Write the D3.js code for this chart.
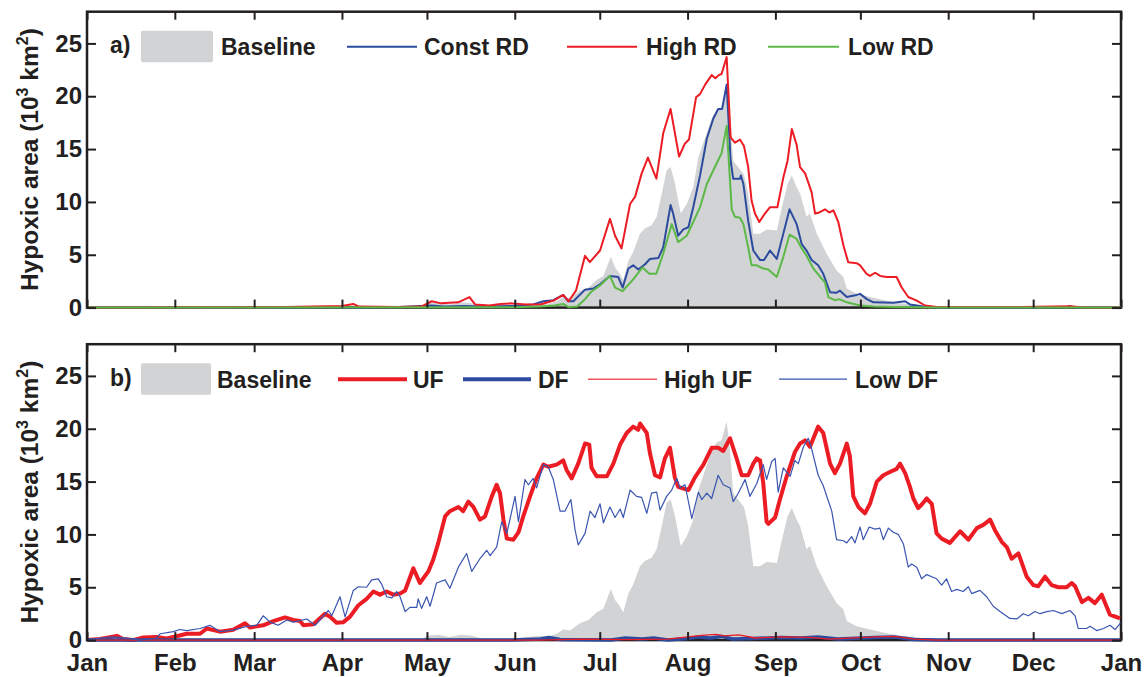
<!DOCTYPE html>
<html><head><meta charset="utf-8">
<script src="https://cdn.jsdelivr.net/npm/d3@7"></script>
<style>
body{margin:0;background:#fff;}
text{font-family:"Liberation Sans",Arial,Helvetica,sans-serif;font-weight:bold;fill:#231f20;}
</style></head>
<body><svg id="c" width="1146" height="677"></svg>
<script>
// ---- data (day of year, hypoxic area 10^3 km^2) ----
const monthStarts = [0,31,59,90,120,151,181,212,243,273,304,334,365];
const monthLabels = ["Jan","Feb","Mar","Apr","May","Jun","Jul","Aug","Sep","Oct","Nov","Dec","Jan"];
const yTicks = [0,5,10,15,20,25];

const baseline = [[0,0],[118,0],[120,0.4],[124,0.5],[128,0.3],[132,0.5],[136,0.4],[140,0.1],[150,0.1],[155,0.3],[160,0.4],[162.3,0.3],[165.8,0.6],[168.1,1.0],[170.5,0.9],[174,1.6],[177,1.9],[179.9,2.6],[182.3,3.0],[184.9,4.8],[186.4,3.8],[188.1,3.2],[189.3,2.6],[191.1,4.4],[192.7,5.2],[195.2,7.0],[197,7.5],[199.3,7.8],[201.1,8.6],[202.9,10.8],[204.6,13.0],[206,13.3],[207.5,11.8],[209.6,8.9],[211.7,9.8],[214,11.4],[215.8,14.2],[218.2,16.1],[220.5,17.9],[222.3,18.7],[224,18.9],[225.8,20.7],[227,17.9],[228.1,13.9],[230.5,13.1],[231.9,12.6],[233.4,10.8],[235.2,7.0],[237.6,7.0],[239.9,7.4],[243.5,7.3],[245.3,9.5],[247.3,11.7],[248.8,12.5],[250.5,11.4],[251.7,10.8],[254,8.6],[255.2,8.9],[257.6,7.0],[261.1,5.1],[264.6,3.5],[267,2.9],[268.2,1.8],[271.7,1.3],[276.4,1.0],[282.3,0.66],[287,0.4],[292.9,0.3],[297.6,0.05],[300,0],[365,0]];

const constRD = [[0,0],[100,0],[110,0.05],[121.7,0.2],[126,0.1],[133,0.15],[140,0.1],[150,0.15],[157.5,0.3],[161.1,0.6],[164.6,0.7],[168.1,1.2],[169.9,0.6],[171.7,0.6],[175.8,1.7],[178.7,1.8],[181.1,2.2],[184.6,3.0],[187.5,2.9],[189.1,1.9],[191.1,3.7],[192.8,4.0],[194.6,3.6],[197,4.1],[198.7,4.6],[201.7,4.7],[203.4,5.7],[206,9.7],[206.9,8.9],[208.7,6.8],[210.5,7.4],[212.3,7.6],[214,9.5],[216.4,12.5],[218.8,16.0],[221.1,17.9],[222.8,18.8],[224.2,18.8],[225.8,21.1],[227.2,13.9],[228.1,12.2],[230.5,12.2],[230.8,12.5],[231.7,11.7],[233.4,8.2],[235.2,5.4],[237.6,4.5],[239,4.5],[241.1,5.4],[243.5,4.6],[245.8,7.0],[248,9.3],[250.5,7.9],[252.3,6.0],[254,5.4],[255.8,4.5],[258.1,4.0],[259.9,3.2],[262.3,1.45],[264.5,1.4],[265.8,1.6],[268.2,1.0],[271.7,1.2],[272.9,1.3],[275.3,0.8],[277.6,0.5],[284.6,0.45],[288.8,0.6],[290.5,0.3],[295.2,0.1],[300,0],[345,0],[347,0.15],[349,0],[365,0]];

const highRD = [[0,0],[70,0.05],[90,0.15],[94,0.35],[96,0.1],[110,0.05],[118,0.1],[121.7,0.6],[125,0.4],[131,0.5],[135,1.0],[137,0.3],[142,0.2],[146,0.35],[150,0.4],[155,0.3],[160,0.3],[165,0.7],[168.1,1.2],[170,0.6],[172.6,1.6],[175.8,4.9],[177.5,4.3],[181.1,5.4],[184.6,8.4],[186.4,6.8],[188.7,5.6],[191.7,9.8],[193.5,10.5],[195.8,12.7],[198,14.2],[201,12.2],[203.4,16.5],[206,18.8],[209,14.3],[211,15.5],[212.5,15.9],[215,19.9],[216.4,20.2],[218.2,21.1],[220.5,22.0],[221.8,21.7],[223,22.0],[224,22.1],[225.8,23.7],[227.2,16.1],[228.7,15.6],[230.5,15.9],[231.9,15.3],[233.4,13.3],[234.6,10.1],[235.8,8.9],[237.3,8.1],[239.3,8.9],[241.1,9.5],[243.7,9.5],[245.8,12.3],[247.3,13.9],[248.8,16.9],[250.5,15.4],[251.7,13.3],[253.5,12.7],[255.8,10.9],[257,8.9],[258.5,9.0],[260.5,9.3],[262,9.0],[263.5,9.2],[265.2,8.1],[267,5.9],[268.7,4.3],[271.7,4.2],[272.9,4.0],[275.2,3.2],[276.4,3.0],[278.2,3.3],[280,3.0],[282.3,2.9],[285.8,2.9],[287.6,1.9],[289.9,1.0],[292.9,0.66],[295.8,0.2],[300,0.05],[330,0.05],[347,0.12],[352,0],[365,0]];

const lowRD = [[0,0],[150,0.03],[160,0.1],[165,0.2],[168.1,0.35],[170,0.05],[173,0.1],[175.8,0.8],[178,1.5],[181.1,2.1],[184.6,3.0],[186.4,1.9],[189,1.55],[192.6,2.6],[196.1,3.8],[198.5,3.2],[201,3.2],[203.4,5.1],[206.4,7.9],[208.7,6.2],[211.7,6.8],[214,8.1],[216.4,9.5],[218.8,11.7],[221.1,13.0],[224,14.6],[225.8,17.2],[227.6,9.3],[228.7,8.6],[230.5,8.5],[231.7,7.9],[233.4,5.7],[234.6,4.0],[236.4,4.0],[238.7,3.7],[240.5,3.6],[243.5,2.9],[245.8,4.8],[248,6.9],[250.5,6.5],[252.3,5.6],[254,4.9],[256.4,3.7],[258.8,2.9],[260.5,2.4],[261.7,1.0],[264,0.7],[265.5,0.8],[268.2,0.5],[272.9,0.2],[277.6,0.1],[285,0.05],[300,0],[365,0]];

const uf = [[0,0],[4.6,0.1],[10.5,0.4],[12.8,0.1],[16.2,0],[19.9,0.25],[24.6,0.3],[28.1,0.15],[30.5,0.3],[35.2,0.6],[39.9,0.6],[42.3,1.1],[46.9,0.8],[51.6,0.98],[55.8,1.6],[57.5,1.2],[62.2,1.4],[65.8,1.8],[69.9,2.15],[72.8,1.9],[75.2,1.8],[76.4,1.4],[79.9,1.5],[84,2.5],[85.8,2.2],[88.1,1.65],[90.5,1.7],[92.8,2.2],[95.8,3.3],[98.7,3.9],[101.1,4.6],[103.4,4.3],[105.8,4.6],[108.1,4.3],[110.5,4.4],[112.3,4.7],[115.2,6.8],[117.5,5.4],[120.5,6.5],[122.2,7.6],[124,9.2],[126.4,11.7],[128.1,12.2],[131.1,12.6],[132.8,12.2],[134.6,13.1],[136.4,12.6],[138.7,11.4],[140.5,11.7],[142.9,13.6],[144.6,14.7],[145.8,13.9],[147,11.4],[148.2,9.6],[150.5,9.5],[152.3,10.2],[154,11.7],[156.4,13.6],[158.7,15.3],[161.1,16.6],[162.8,16.4],[165.8,16.6],[168.1,17.0],[169.3,16.1],[171.1,15.3],[173.4,16.7],[175.8,18.6],[177.3,18.5],[178.1,16.3],[179.9,15.5],[183.5,15.5],[185.8,16.7],[188.2,18.5],[190.5,19.6],[192.8,20.2],[194.6,19.9],[195.2,20.5],[197.6,19.6],[198.7,17.7],[200.5,15.6],[202.3,15.4],[204,17.2],[205.8,18.2],[207.5,15.4],[208.7,14.5],[212.3,14.2],[214.6,15.4],[217.6,16.6],[220.5,18.2],[222.8,18.2],[224.6,17.9],[227,19.1],[229.3,17.2],[231.1,15.6],[233.4,15.6],[235.2,16.7],[236.4,17.2],[237.6,17.0],[238.7,14.9],[239.9,11.2],[240.5,11.0],[242.9,11.6],[244.6,13.3],[247,15.5],[249.9,17.8],[251.7,18.6],[253.5,18.9],[255.2,18.3],[258.1,20.2],[259.9,19.6],[262.3,16.7],[264,15.8],[265.8,16.7],[268.2,18.6],[269.3,17.4],[270.5,13.6],[272.3,12.6],[274.6,12.0],[276.4,12.9],[278.8,15.0],[281.1,15.6],[283.4,15.9],[285.8,16.2],[287,16.7],[288.8,15.8],[290.5,14.5],[291.7,13.4],[293.4,12.5],[294.6,12.8],[296.4,13.4],[298.2,12.9],[299.9,10.1],[301.7,9.6],[304.6,9.2],[308.2,10.3],[311.1,9.5],[314.1,10.6],[316.4,10.9],[318.8,11.4],[320.5,10.4],[322.9,9.3],[324.7,8.8],[326.4,7.7],[328.8,8.2],[331.7,6.0],[334.1,5.2],[335.8,5.1],[338.2,6.0],[340.5,5.2],[342.9,5.0],[345.8,5.0],[347.6,5.4],[348.8,5.1],[351.2,3.6],[353.5,4.0],[355.8,3.5],[358.2,4.3],[361.1,2.4],[364.6,2.05]];

const df = [[0,0],[150,0],[160,0.1],[163,0.25],[167,0.05],[185,0],[190,0.2],[196,0.1],[200,0.2],[205,0],[212,0.15],[216,0.3],[220,0.2],[224,0.35],[228,0.1],[235,0.15],[245,0.25],[252,0.2],[258,0.3],[265,0.1],[278,0.25],[285,0.3],[292,0.05],[300,0],[365,0]];

const highUF = [[0,0],[160,0],[175,0.1],[190,0.05],[205,0.1],[212,0.3],[217,0.45],[222,0.55],[225,0.4],[230,0.5],[236,0.2],[245,0.3],[255,0.25],[262,0.1],[278,0.3],[285,0.35],[292,0.1],[300,0],[365,0]];

const lowDF = [[0,0],[4.6,0.2],[9.3,0.3],[14,0.2],[18.7,0],[24.6,0.2],[25.8,0.6],[30.5,0.8],[32.8,1.0],[35.2,0.9],[39.9,1.1],[43.4,1.4],[46.9,0.8],[51.6,0.95],[56.4,1.3],[59.9,1.4],[62.2,2.3],[64.6,1.7],[67.5,1.4],[70.5,1.9],[72.8,1.7],[77.6,2.0],[80.5,1.4],[85.2,2.8],[86.4,2.3],[89.3,4.1],[91.1,2.2],[94,4.7],[95.8,5.05],[98.7,5.0],[100.5,5.7],[102.8,5.8],[104,5.3],[105.8,4.1],[107.6,4.0],[109.3,4.6],[110.5,4.1],[112.3,2.7],[114,3.1],[116.4,3.1],[116.9,3.9],[118.1,3.0],[119.9,4.1],[121.1,3.2],[123.4,5.4],[126.4,5.7],[128.1,4.9],[131.1,6.9],[134,8.2],[135.8,6.5],[138.7,7.7],[141.1,8.5],[142.3,8.0],[144.6,8.8],[146.4,11.2],[148.2,10.1],[151.1,13.6],[152.3,11.2],[154.6,15.2],[155.8,14.7],[157.5,15.3],[158.7,14.4],[161.1,16.6],[162.8,16.4],[164.6,15.2],[167,12.2],[168.7,12.2],[170.8,13.3],[172.3,10.4],[173.4,9.0],[175.8,10.1],[177.6,12.2],[179.3,11.6],[181.1,12.9],[182.3,11.1],[184.6,12.6],[186.4,11.6],[188.2,12.4],[189.3,11.6],[191.7,14.2],[194,13.6],[195.8,13.5],[197.6,12.0],[199.3,13.9],[201.1,14.0],[202.3,12.3],[204.6,13.6],[206.4,14.2],[208.2,15.3],[209.3,14.4],[211.1,14.7],[213.5,11.5],[215.8,14.0],[217,13.3],[218.8,13.9],[220.5,13.4],[222.8,15.6],[224.6,14.7],[227,14.4],[228.1,13.1],[229.9,13.9],[232.3,15.2],[234,13.6],[236.4,14.8],[238.7,16.6],[239.9,15.2],[241.7,16.9],[242.9,17.2],[244,14.0],[245.8,16.3],[248.2,15.5],[249.9,17.0],[251.1,16.7],[252.9,18.3],[254.6,19.1],[255.8,18.1],[258.1,15.6],[259.9,14.6],[262.9,12.2],[264.6,9.5],[267,9.4],[268.2,9.2],[269.9,9.8],[271.1,9.2],[272.9,10.7],[274,9.5],[276.1,10.7],[278.2,10.5],[279.9,10.6],[281.1,9.5],[282.9,10.6],[284.6,10.2],[286.4,10.0],[288.2,9.1],[289.9,6.9],[291.1,7.2],[292.9,6.9],[294.6,5.8],[296.4,6.2],[298.2,6.0],[299.9,5.8],[301.7,5.2],[303.4,5.8],[305.2,4.6],[307,4.8],[309.3,4.6],[311.1,5.05],[312.3,4.4],[315.2,4.7],[317.6,4.1],[319.9,3.2],[322.3,2.7],[325.8,2.05],[328.2,2.0],[330.5,2.5],[332.3,2.3],[334.6,2.7],[336.4,2.5],[338.8,2.7],[341.1,2.8],[344.1,2.5],[347,2.8],[348.8,2.3],[349.9,1.1],[352.9,1.1],[354.1,1.3],[356.4,0.9],[358.8,1.1],[361.1,1.4],[362.9,1.0],[364.8,1.6]];

// ---- drawing ----
const svg = d3.select("#c");
const L = 87, R = 1121;
const x = d3.scaleLinear().domain([0,365]).range([L,R]);
const C = {red:"#ec1c24", blue:"#2c4b9e", green:"#5cb947", gray:"#d1d3d4", lred:"#f0585c", lblue:"#3a55b0"};

function panel(top, bottom, opts){
  const y = d3.scaleLinear().domain([0,28]).range([bottom, top]);
  const g = svg.append("g");
  g.append("path").datum(baseline)
    .attr("d", d3.area().x(d=>x(d[0])).y0(y(0)).y1(d=>y(d[1])))
    .attr("fill", C.gray);
  g.append("rect").attr("x",L).attr("y",top).attr("width",R-L).attr("height",bottom-top)
    .attr("fill","none").attr("stroke","#231f20").attr("stroke-width",2.5);
  const line = d3.line().x(d=>x(d[0])).y(d=>y(d[1]));
  opts.series.forEach(s=>{
    g.append("path").datum(s.data).attr("d",line).attr("fill","none")
      .attr("stroke",s.color).attr("stroke-width",s.w).attr("stroke-linejoin","round");
  });
  const ax = (sel)=>{sel.select(".domain").remove(); sel.selectAll(".tick line").attr("stroke","#231f20").attr("stroke-width",2);};
  g.append("g").attr("transform",`translate(${L},0)`)
    .call(d3.axisLeft(y).tickValues(yTicks).tickSize(-9).tickPadding(5)).call(ax)
    .selectAll("text").attr("font-size",24).attr("font-family","Liberation Sans, Arial, sans-serif").attr("font-weight","bold").attr("fill","#231f20");
  g.append("g").attr("transform",`translate(${R},0)`)
    .call(d3.axisRight(y).tickValues(yTicks).tickSize(-9).tickFormat("")).call(ax);
  g.append("g").attr("transform",`translate(0,${top})`)
    .call(d3.axisTop(x).tickValues(monthStarts).tickSize(-8).tickFormat("")).call(ax);
  const bx = g.append("g").attr("transform",`translate(0,${bottom})`)
    .call(d3.axisBottom(x).tickValues(monthStarts).tickSize(-8).tickPadding(13.5)
      .tickFormat(opts.labels ? (d,i)=>monthLabels[i] : "")).call(ax);
  bx.selectAll("text").attr("font-size",24).attr("font-family","Liberation Sans, Arial, sans-serif").attr("font-weight","bold").attr("fill","#231f20");
  const cy = (top+bottom)/2;
  const t = g.append("text").attr("transform",`translate(38,${cy}) rotate(-90)`)
    .attr("text-anchor","middle").attr("font-size",24.5);
  t.append("tspan").text("Hypoxic area (10");
  t.append("tspan").attr("font-size",16).attr("dy",-10).text("3");
  t.append("tspan").attr("dy",10).text(" km");
  t.append("tspan").attr("font-size",16).attr("dy",-10).text("2");
  t.append("tspan").attr("dy",10).text(")");
  const ly = top + 35;
  g.append("text").attr("x",110).attr("y",top+41.5).attr("font-size",23).text(opts.tag);
  g.append("rect").attr("x",141).attr("y",top+19).attr("width",opts.rw).attr("height",31.5)
    .attr("rx",2).attr("fill",C.gray);
  g.append("text").attr("x",opts.bx).attr("y",top+43.5).attr("font-size",23).text("Baseline");
  opts.legend.forEach(l=>{
    g.append("line").attr("x1",l.x1).attr("x2",l.x2).attr("y1",ly).attr("y2",ly)
      .attr("stroke",l.color).attr("stroke-width",l.w);
    g.append("text").attr("x",l.tx).attr("y",top+43.5).attr("font-size",23).text(l.label);
  });
}

panel(11.7, 307.6, {
  labels:false, tag:"a)", rw:72, bx:221,
  series:[{data:constRD,color:C.blue,w:2},{data:highRD,color:C.red,w:2},{data:lowRD,color:C.green,w:2}],
  legend:[
    {x1:347,x2:417,color:C.blue,w:2,tx:424,label:"Const RD"},
    {x1:567,x2:637,color:C.red,w:2,tx:646,label:"High RD"},
    {x1:768,x2:839,color:C.green,w:2,tx:848,label:"Low RD"}]
});
panel(344.2, 640.1, {
  labels:true, tag:"b)", rw:70, bx:217,
  series:[{data:uf,color:C.red,w:4},{data:df,color:C.blue,w:3.5},{data:highUF,color:C.red,w:1.3},{data:lowDF,color:C.lblue,w:1.2}],
  legend:[
    {x1:338,x2:407,color:C.red,w:4,tx:413,label:"UF"},
    {x1:463,x2:531,color:C.blue,w:4,tx:538,label:"DF"},
    {x1:588,x2:657,color:C.lred,w:1.5,tx:664,label:"High UF"},
    {x1:779,x2:847,color:C.lblue,w:1.3,tx:855,label:"Low DF"}]
});
</script></body></html>
